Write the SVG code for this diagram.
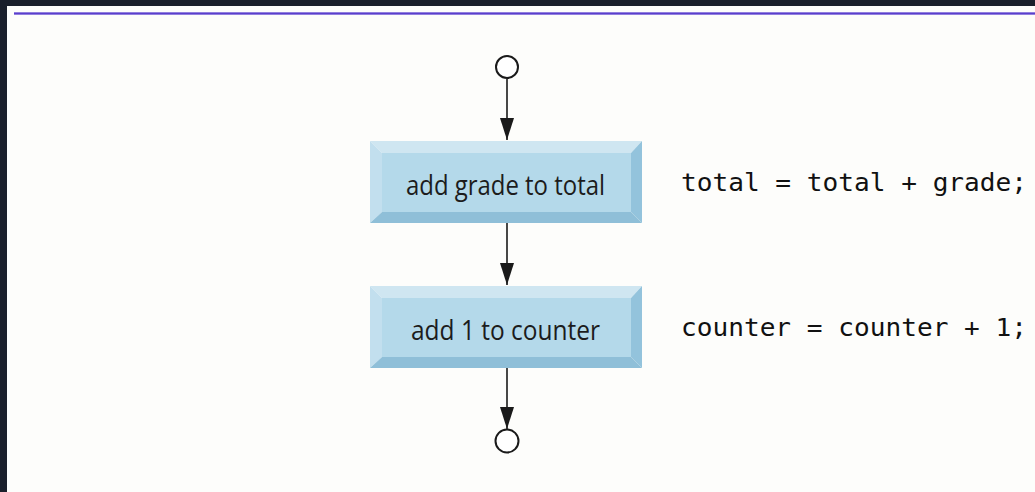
<svg xmlns="http://www.w3.org/2000/svg" width="1035" height="492" viewBox="0 0 1035 492">
  <style>
    .label { font-family: "Open Sans", "Noto Sans", sans-serif; font-size: 28px; fill: #1c1c1c; }
    .code { font-family: "DejaVu Sans Mono", "Liberation Mono", monospace; font-size: 25px; fill: #111111; }
    .edge { stroke: #1a1a1a; stroke-width: 1.6; fill: none; marker-end: url(#arrow); }
    .terminal { fill: #ffffff; stroke: #1a1a1a; stroke-width: 2; }
    .bevel-top { fill: #cfe6f1; }
    .bevel-left { fill: #c2dfee; }
    .bevel-right { fill: #93c3dc; }
    .bevel-bottom { fill: #8fbfd8; }
    .face { fill: #b4d9ea; }
  </style>
  <defs>
    <marker id="arrow" viewBox="0 0 22 14" refX="22" refY="7" markerWidth="22" markerHeight="14" markerUnits="userSpaceOnUse" orient="auto">
      <path d="M0,0 L22,7 L0,14 Z" fill="#1a1a1a"/>
    </marker>
    <!-- bevelled action box, origin at the outer top-left corner -->
    <g id="actionBox">
      <polygon class="bevel-top" points="0,0 272,0 261,12 12,12"/>
      <polygon class="bevel-left" points="0,0 12,12 12,71 0,82"/>
      <polygon class="bevel-right" points="272,0 272,82 261,71 261,12"/>
      <polygon class="bevel-bottom" points="0,82 12,71 261,71 272,82"/>
      <rect class="face" x="12" y="12" width="249" height="59"/>
    </g>
  </defs>

  <!-- page frame -->
  <rect width="1035" height="492" fill="#1a1f2b"/>
  <rect x="7" y="6" width="1028" height="486" fill="#fdfdfb"/>
  <rect x="14" y="12" width="1021" height="3" fill="#a99be6"/>
  <rect x="14" y="12.7" width="1021" height="1.6" fill="#5a3fcc"/>

  <g id="connectors">
    <line class="edge" x1="507" y1="79" x2="507" y2="140"/>
    <line class="edge" x1="507" y1="223" x2="507" y2="285"/>
    <line class="edge" x1="507" y1="368" x2="507" y2="429"/>
  </g>

  <g id="start">
    <circle class="terminal" cx="507" cy="67" r="11"/>
  </g>

  <g id="addGrade">
    <use href="#actionBox" x="370" y="141"/>
    <text class="label" x="406" y="195" textLength="199" lengthAdjust="spacingAndGlyphs">add grade to total</text>
  </g>

  <g id="addCounter">
    <use href="#actionBox" x="370" y="286"/>
    <text class="label" x="411" y="340" textLength="189" lengthAdjust="spacingAndGlyphs">add 1 to counter</text>
  </g>

  <g id="end">
    <circle class="terminal" cx="507" cy="441" r="11.5"/>
  </g>

  <g id="code">
    <text class="code" x="681" y="191" textLength="346" lengthAdjust="spacingAndGlyphs">total = total + grade;</text>
    <text class="code" x="681" y="336" textLength="346" lengthAdjust="spacingAndGlyphs">counter = counter + 1;</text>
  </g>
</svg>
